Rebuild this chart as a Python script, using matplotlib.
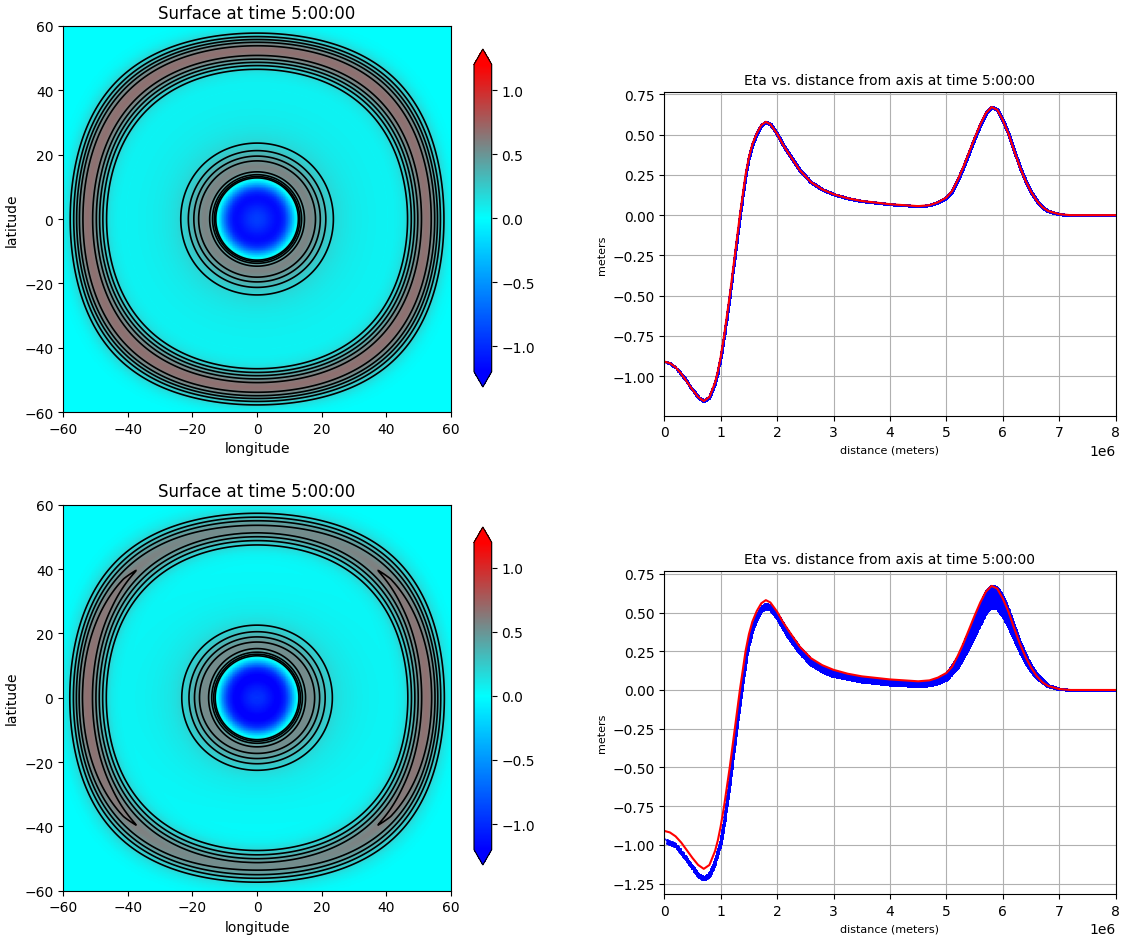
import numpy as np
import matplotlib
matplotlib.use("Agg")
import matplotlib.pyplot as plt
from matplotlib.colors import LinearSegmentedColormap, Normalize

# radial profiles (distance in 1e6 m, eta in m)
# reference 1d solution (red line, also the top 2d run)
ref_dist = [0.0, 0.1, 0.2, 0.3, 0.4, 0.5, 0.6, 0.7, 0.8, 0.9, 0.95, 1.0, 1.06, 1.16, 1.25,
            1.34, 1.44, 1.5, 1.56, 1.64, 1.72, 1.8, 1.88, 2.0, 2.1, 2.2, 2.4, 2.6, 2.8, 3.0,
            3.25, 3.5, 4.0, 4.5, 4.7, 4.85, 5.0, 5.1, 5.2, 5.3, 5.4, 5.5, 5.6, 5.7, 5.8,
            5.9, 6.0, 6.1, 6.2, 6.3, 6.4, 6.5, 6.6, 6.7, 6.8, 7.0, 7.2, 8.5]
ref_eta = [-0.91, -0.92, -0.945, -0.985, -1.035, -1.085, -1.13, -1.155, -1.13, -1.04, -0.97,
           -0.88, -0.75, -0.5, -0.25, 0.0, 0.25, 0.36, 0.44, 0.51, 0.56, 0.58, 0.565, 0.505,
           0.44, 0.385, 0.28, 0.205, 0.16, 0.13, 0.105, 0.088, 0.068, 0.056, 0.062, 0.08,
           0.11, 0.15, 0.22, 0.30, 0.39, 0.48, 0.565, 0.635, 0.672, 0.655, 0.59, 0.505,
           0.40, 0.30, 0.215, 0.145, 0.09, 0.05, 0.026, 0.006, 0.0, 0.0]

# bottom run: upper edge of the blue band (east-west) and lower edge (north-south)
bot_dist = [0.0, 0.2, 0.4, 0.5, 0.6, 0.7, 0.8, 0.9, 1.0, 1.06, 1.16, 1.26, 1.36, 1.46,
            1.52, 1.58, 1.65, 1.72, 1.8, 1.88, 2.0, 2.1, 2.2, 2.4, 2.6, 2.8, 3.0, 3.5, 4.0,
            4.5, 4.7, 4.85, 5.0, 5.2, 5.4, 5.6, 5.7, 5.8, 5.9, 6.0, 6.1, 6.2, 6.3, 6.4,
            6.5, 6.6, 6.8, 7.0, 7.2, 8.5]
bot_eta_ew = [-0.96, -0.995, -1.09, -1.14, -1.19, -1.21, -1.185, -1.10, -0.97, -0.84,
              -0.58, -0.28, 0.0, 0.25, 0.35, 0.43, 0.49, 0.535, 0.555, 0.545, 0.49, 0.43,
              0.37, 0.27, 0.195, 0.15, 0.12, 0.08, 0.06, 0.05, 0.056, 0.075, 0.105, 0.21,
              0.38, 0.555, 0.635, 0.675, 0.66, 0.6, 0.515, 0.41, 0.31, 0.225, 0.155, 0.10,
              0.03, 0.008, 0.0, 0.0]
bot_eta_ns = [-0.98, -1.01, -1.10, -1.15, -1.20, -1.225, -1.20, -1.115, -0.99, -0.86,
              -0.60, -0.30, -0.02, 0.23, 0.33, 0.41, 0.47, 0.515, 0.53, 0.52, 0.465, 0.40,
              0.34, 0.24, 0.165, 0.12, 0.09, 0.055, 0.035, 0.025, 0.03, 0.045, 0.07, 0.15,
              0.28, 0.43, 0.505, 0.535, 0.525, 0.48, 0.41, 0.33, 0.25, 0.18, 0.125, 0.08,
              0.025, 0.006, 0.0, 0.0]

contour_levels = [0.2, 0.3, 0.4, 0.5, 0.6]
title_map = "Surface at time 5:00:00"
title_prof = "Eta vs. distance from axis at time 5:00:00"

Rearth = 6.367e6

cmap = LinearSegmentedColormap.from_list("bcr", [(0.0, "blue"), (0.5, "cyan"), (1.0, "red")])
norm = Normalize(vmin=-1.2, vmax=1.2)

lon = np.linspace(-60, 60, 601)
lat = np.linspace(-60, 60, 601)
LON, LAT = np.meshgrid(lon, lat)
cosd = np.cos(np.radians(LAT)) * np.cos(np.radians(LON))
dist = Rearth * np.arccos(np.clip(cosd, -1, 1))
theta = np.arctan2(LAT, LON)

ref_d = np.array(ref_dist) * 1e6
bot_d = np.array(bot_dist) * 1e6

eta_top = np.interp(dist, ref_d, ref_eta)
w = np.cos(theta) ** 2
eta_bot = w * np.interp(dist, bot_d, bot_eta_ew) + (1 - w) * np.interp(dist, bot_d, bot_eta_ns)

fig = plt.figure(figsize=(11.28, 9.37), dpi=100)

def draw_row(eta, y_map, y_cb, y_prof, h_prof):
  ax = fig.add_axes([0.0559, y_map, 0.344, 0.412])
  pc = ax.pcolormesh(LON, LAT, eta, cmap=cmap, norm=norm, shading="auto")
  ax.contour(LON, LAT, eta, levels=contour_levels, colors="k", linewidths=1.2)
  ax.set_xlim(-60, 60)
  ax.set_ylim(-60, 60)
  ax.set_xticks(range(-60, 61, 20))
  ax.set_yticks(range(-60, 61, 20))
  ax.set_title(title_map)
  ax.set_xlabel("longitude")
  ax.set_ylabel("latitude")

  cax = fig.add_axes([0.4202, y_cb, 0.0157, 0.3607])
  fig.colorbar(pc, cax=cax, extend="both")

  ax2 = fig.add_axes([0.5889, y_prof, 0.4002, h_prof])
  s = slice(None, None, 2)
  ax2.plot(dist[s, s].ravel(), eta[s, s].ravel(), "b.", markersize=2)
  ax2.plot(ref_d, ref_eta, "r-", linewidth=1.5)
  ax2.set_xlim(0, 8e6)
  ax2.grid(True)
  ax2.set_title(title_prof, fontsize=10)
  ax2.set_xlabel("distance (meters)", fontsize=8)
  ax2.set_ylabel("meters", fontsize=8)
  return ax2

draw_row(eta_top, 0.5592, 0.5859, 0.5553, 0.3451)
draw_row(eta_bot, 0.0483, 0.0758, 0.0448, 0.3447)

fig.savefig("out.png", dpi=100)
